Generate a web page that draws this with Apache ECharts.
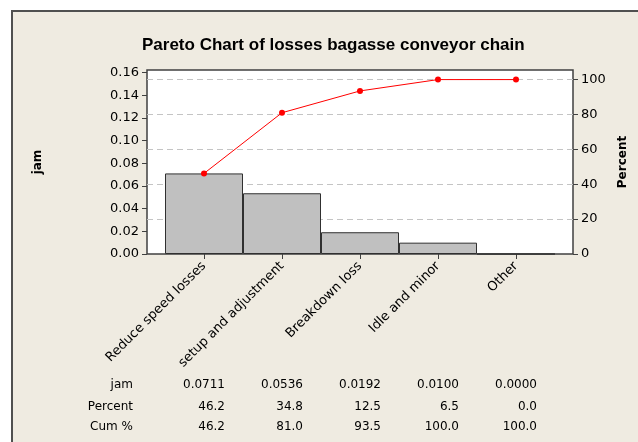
<!DOCTYPE html>
<html><head><meta charset="utf-8">
<script src="https://cdn.jsdelivr.net/npm/echarts@6/dist/echarts.min.js"></script>
<style>html,body{margin:0;padding:0;background:#fff}#c{width:638px;height:442px}</style>
</head><body><div id="c"></div>
<script>
const categories = ["Reduce speed losses", "setup and adjustment", "Breakdown loss", "Idle and minor", "Other"];
const jam = [0.0711, 0.0536, 0.0192, 0.0100, 0.0000];
const percent = [46.2, 34.8, 12.5, 6.5, 0.0];
const cumPercent = [46.2, 81.0, 93.5, 100.0, 100.0];
const leftTicks = [0, 0.02, 0.04, 0.06, 0.08, 0.10, 0.12, 0.14, 0.16];
const rightTicks = [0, 20, 40, 60, 80, 100];
const rowLabels = ["jam", "Percent", "Cum %"];
const title = "Pareto Chart of losses bagasse conveyor chain";

const total = jam.reduce((a, b) => a + b, 0);
const rightMax = 105.5;
const leftMax = total * rightMax / 100;

const FONT = "DejaVu Sans";
const chart = echarts.init(document.getElementById('c'), null, {renderer: 'canvas'});
const valAxisCommon = {type: 'value', min: 0};
const panel = {type: 'rect', z: -10, shape: {x: 12, y: 11, width: 640, height: 440},
    style: {fill: '#EFEBE1', stroke: '#505050', lineWidth: 2}};
chart.setOption({
  animation: false,
  backgroundColor: '#ffffff',
  title: {text: title, left: 137, top: 32,
    textStyle: {fontFamily: 'Liberation Sans', fontWeight: 'bold', fontSize: 17, color: '#000'}},
  graphic: [panel],
  grid: [
    {left: 147, top: 70, width: 426, height: 184, show: true, backgroundColor: '#fff', borderColor: '#404040', borderWidth: 1.5},
    {left: 165, top: 70, width: 390, height: 184}
  ],
  xAxis: [
    {type: 'value', gridIndex: 0, show: false, min: 0, max: 1},
    {type: 'category', gridIndex: 1, data: categories, boundaryGap: true,
     axisLine: {show: false},
     axisTick: {show: true, alignWithLabel: true, length: 5, lineStyle: {color: '#404040'}},
     axisLabel: {rotate: 45, interval: 0, margin: 10, fontFamily: FONT, fontSize: 13, color: '#000'}}
  ],
  yAxis: [
    Object.assign({}, valAxisCommon, {gridIndex: 0, position: 'left', max: leftMax,
      name: 'jam', nameLocation: 'middle', nameGap: 103, nameRotate: 90,
      nameTextStyle: {fontFamily: FONT, fontWeight: 'bold', fontSize: 12, color: '#000'},
      axisLine: {show: false},
      axisTick: {show: true, length: 5, customValues: leftTicks, lineStyle: {color: '#404040'}},
      axisLabel: {customValues: leftTicks, formatter: v => v.toFixed(2), fontFamily: FONT, fontSize: 13, color: '#000', margin: 8},
      splitLine: {show: false}}),
    Object.assign({}, valAxisCommon, {gridIndex: 0, position: 'right', max: rightMax, interval: 20,
      name: 'Percent', nameLocation: 'middle', nameGap: 40, nameRotate: 90,
      nameTextStyle: {fontFamily: FONT, fontWeight: 'bold', fontSize: 12, color: '#000'},
      axisLine: {show: false},
      axisTick: {show: true, length: 5, customValues: rightTicks, lineStyle: {color: '#404040'}},
      axisLabel: {customValues: rightTicks, fontFamily: FONT, fontSize: 13, color: '#000', margin: 8},
      splitLine: {show: true, showMinLine: false, showMaxLine: true, lineStyle: {type: [6, 4], color: '#c4c4c4', width: 1}}}),
    Object.assign({}, valAxisCommon, {gridIndex: 1, show: false, max: leftMax, splitLine: {show: false}}),
    Object.assign({}, valAxisCommon, {gridIndex: 1, show: false, max: rightMax, splitLine: {show: false}})
  ],
  series: [
    {type: 'bar', xAxisIndex: 1, yAxisIndex: 2, data: jam, barCategoryGap: 0, barWidth: '100%',
     itemStyle: {color: '#C0C0C0', borderColor: '#303030', borderWidth: 1}},
    {type: 'line', xAxisIndex: 1, yAxisIndex: 3, data: cumPercent, symbol: 'circle', symbolSize: 6,
     lineStyle: {color: '#ff0000', width: 1}, itemStyle: {color: '#ff0000'}, z: 5}
  ]
});

// table below the chart, x positions from the category axis
const rows = [jam.map(v => v.toFixed(4)), percent.map(v => v.toFixed(1)), cumPercent.map(v => v.toFixed(1))];
const rowY = [385, 407, 427];
const texts = [];
rows.forEach((r, ri) => {
  texts.push({type: 'text', x: 133, y: rowY[ri], style: {text: rowLabels[ri], align: 'right', verticalAlign: 'middle', font: '12px "DejaVu Sans"', fill: '#000'}});
  r.forEach((t, ci) => {
    const px = chart.convertToPixel({xAxisIndex: 1}, ci);
    texts.push({type: 'text', x: px + 21, y: rowY[ri], style: {text: t, align: 'right', verticalAlign: 'middle', font: '12px "DejaVu Sans"', fill: '#000'}});
  });
});
chart.setOption({graphic: [panel].concat(texts)});
</script></body></html>
